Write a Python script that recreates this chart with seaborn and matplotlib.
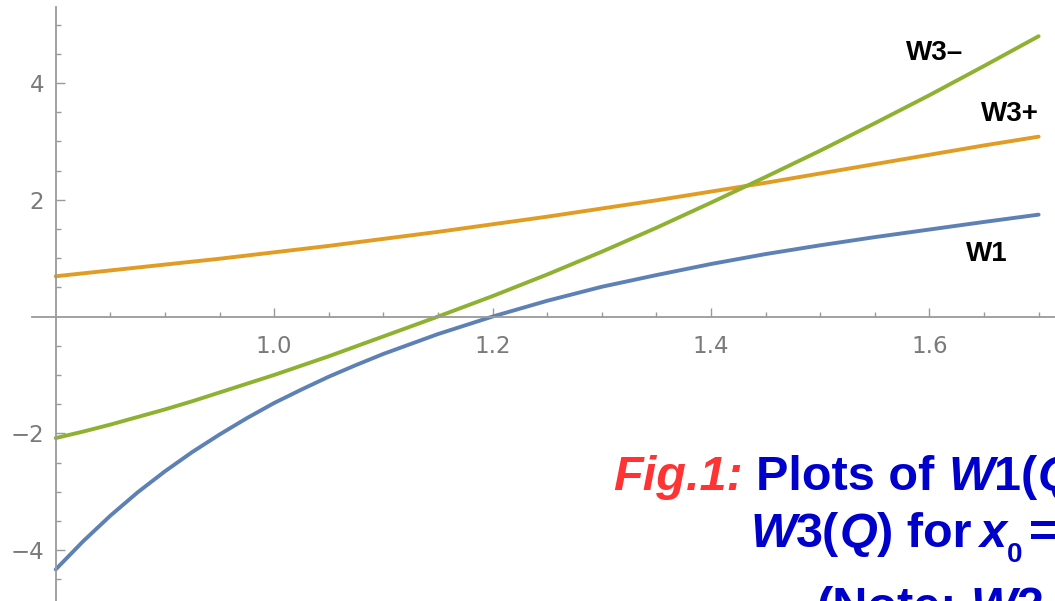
import numpy as np
import pandas as pd
import matplotlib
matplotlib.use("Agg")
import matplotlib.pyplot as plt
import seaborn as sns
from matplotlib.ticker import FixedLocator

# values
q = [0.80, 0.825, 0.85, 0.875, 0.90, 0.925, 0.95, 0.975, 1.00, 1.025, 1.05, 1.075, 1.10,
     1.15, 1.20, 1.25, 1.30, 1.35, 1.40, 1.45, 1.50, 1.55, 1.60, 1.65, 1.70]
w1 = [-4.33, -3.85, -3.41, -3.01, -2.65, -2.32, -2.02, -1.74, -1.48, -1.25, -1.03, -0.83, -0.64,
      -0.30, 0.00, 0.27, 0.51, 0.71, 0.90, 1.07, 1.22, 1.36, 1.49, 1.62, 1.745]
w3_plus = [0.69, 0.74, 0.79, 0.84, 0.89, 0.94, 0.99, 1.045, 1.10, 1.155, 1.21, 1.27, 1.33,
           1.45, 1.58, 1.71, 1.85, 1.99, 2.14, 2.29, 2.45, 2.61, 2.77, 2.93, 3.08]
w3_minus = [-2.08, -1.97, -1.85, -1.72, -1.59, -1.45, -1.30, -1.15, -1.00, -0.84, -0.68, -0.51, -0.34,
            0.00, 0.35, 0.72, 1.11, 1.52, 1.95, 2.39, 2.84, 3.31, 3.79, 4.29, 4.80]

curve_names = ["W1", "W3+", "W3\u2013"]
curve_colors = {"W1": "#5E81B5", "W3+": "#E19C24", "W3\u2013": "#8FB131"}
x_major = [1.0, 1.2, 1.4, 1.6]
y_major = [-4, -2, 2, 4]

df = pd.concat([
    pd.DataFrame({"Q": q, "W": w1, "curve": "W1"}),
    pd.DataFrame({"Q": q, "W": w3_plus, "curve": "W3+"}),
    pd.DataFrame({"Q": q, "W": w3_minus, "curve": "W3\u2013"}),
], ignore_index=True)

sns.set_theme(style="white")
plt.rcParams["font.family"] = ["DejaVu Sans"]

W, H = 1055, 601
fig = plt.figure(figsize=(W / 100, H / 100), dpi=100)
ax = fig.add_axes([0, 0, 1, 1])
ax.set_facecolor("white")

sns.lineplot(data=df, x="Q", y="W", hue="curve", hue_order=curve_names,
             palette=curve_colors, linewidth=2.8, legend=False, sort=False, ax=ax)

ax.set_xlim(0.749, 1.715)
ax.set_ylim(-4.87, 5.42)
ax.set_xlabel("")
ax.set_ylabel("")

# Mathematica-like crossing axes
axis_col = "#9a9a9a"
for side in ["top", "right"]:
    ax.spines[side].set_visible(False)
ax.spines["left"].set_position(("data", 0.8))
ax.spines["bottom"].set_position(("data", 0))
ax.spines["left"].set_bounds(-4.87, 5.3)
ax.spines["bottom"].set_bounds(0.778, 1.715)
for side in ["left", "bottom"]:
    ax.spines[side].set_color(axis_col)
    ax.spines[side].set_linewidth(1.3)

x_minor = [v for v in np.round(np.arange(0.85, 1.71, 0.05), 2) if v not in x_major]
y_minor = [v for v in np.arange(-4.5, 5.01, 0.5) if v not in y_major and v != 0]
ax.set_xticks(x_major)
ax.set_xticklabels([f"{v:.1f}" for v in x_major])
ax.set_yticks(y_major)
ax.xaxis.set_minor_locator(FixedLocator(x_minor))
ax.yaxis.set_minor_locator(FixedLocator(y_minor))
ax.tick_params(which="both", bottom=True, left=True, direction="in",
               color=axis_col, width=1.0, labelcolor="#7a7a7a", labelsize=16.5)
ax.tick_params(which="major", length=6.5)
ax.tick_params(which="minor", length=3.8)
ax.tick_params(axis="x", which="major", pad=13)
ax.tick_params(axis="y", which="major", pad=8.5)

# curve labels next to the line ends
label_offsets = {"W3\u2013": (-75, -12), "W3+": (-21, 16), "W1": (-37, -28)}
for name in curve_names:
    sub = df[df["curve"] == name]
    ax.annotate(name, xy=(sub["Q"].iloc[-1], sub["W"].iloc[-1]),
                xytext=label_offsets[name], textcoords="offset points",
                ha="center", va="center", fontsize=20, fontweight="bold",
                color="black", family=["Liberation Sans"])

# caption (cut off by the picture edge, as in the reference)
renderer = fig.canvas.get_renderer()
red, blue = "#ff3333", "#0000cc"
cap_size = 35
space_px = 0.278 * cap_size * 100 / 72


def draw_runs(x0, base, runs):
    x = x0
    for txt, style, size, dy, color, gap in runs:
        t = fig.text(x / W, 1 - (base + dy) / H, txt, fontsize=size,
                     fontweight="bold", fontstyle=style, color=color,
                     family=["Liberation Sans"], ha="left", va="baseline")
        bb = t.get_window_extent(renderer)
        x = bb.x1 + gap * space_px


draw_runs(613, 490, [
    ("Fig.1:", "italic", cap_size, 0, red, 1),
    ("Plots of", "normal", cap_size, 0, blue, 1),
    ("W", "italic", cap_size, 0, blue, 0),
    ("1(", "normal", cap_size, 0, blue, 0),
    ("Q", "italic", cap_size, 0, blue, 0),
    ("),", "normal", cap_size, 0, blue, 1),
])
draw_runs(750, 547, [
    ("W", "italic", cap_size, 0, blue, 0),
    ("3(", "normal", cap_size, 0, blue, 0),
    ("Q", "italic", cap_size, 0, blue, 0),
    (") for", "normal", cap_size, 0, blue, 0.6),
    ("x", "italic", cap_size, 0, blue, 0),
    ("0", "normal", 20, 15, blue, 0.5),
    ("=", "normal", cap_size, 0, blue, 1),
])
draw_runs(817, 621, [
    ("(Note:", "normal", cap_size, 0, blue, 1),
    ("W", "italic", cap_size, 0, blue, 0),
    ("2 is", "normal", cap_size, 0, blue, 0),
])

fig.savefig("out.png", dpi=100)
